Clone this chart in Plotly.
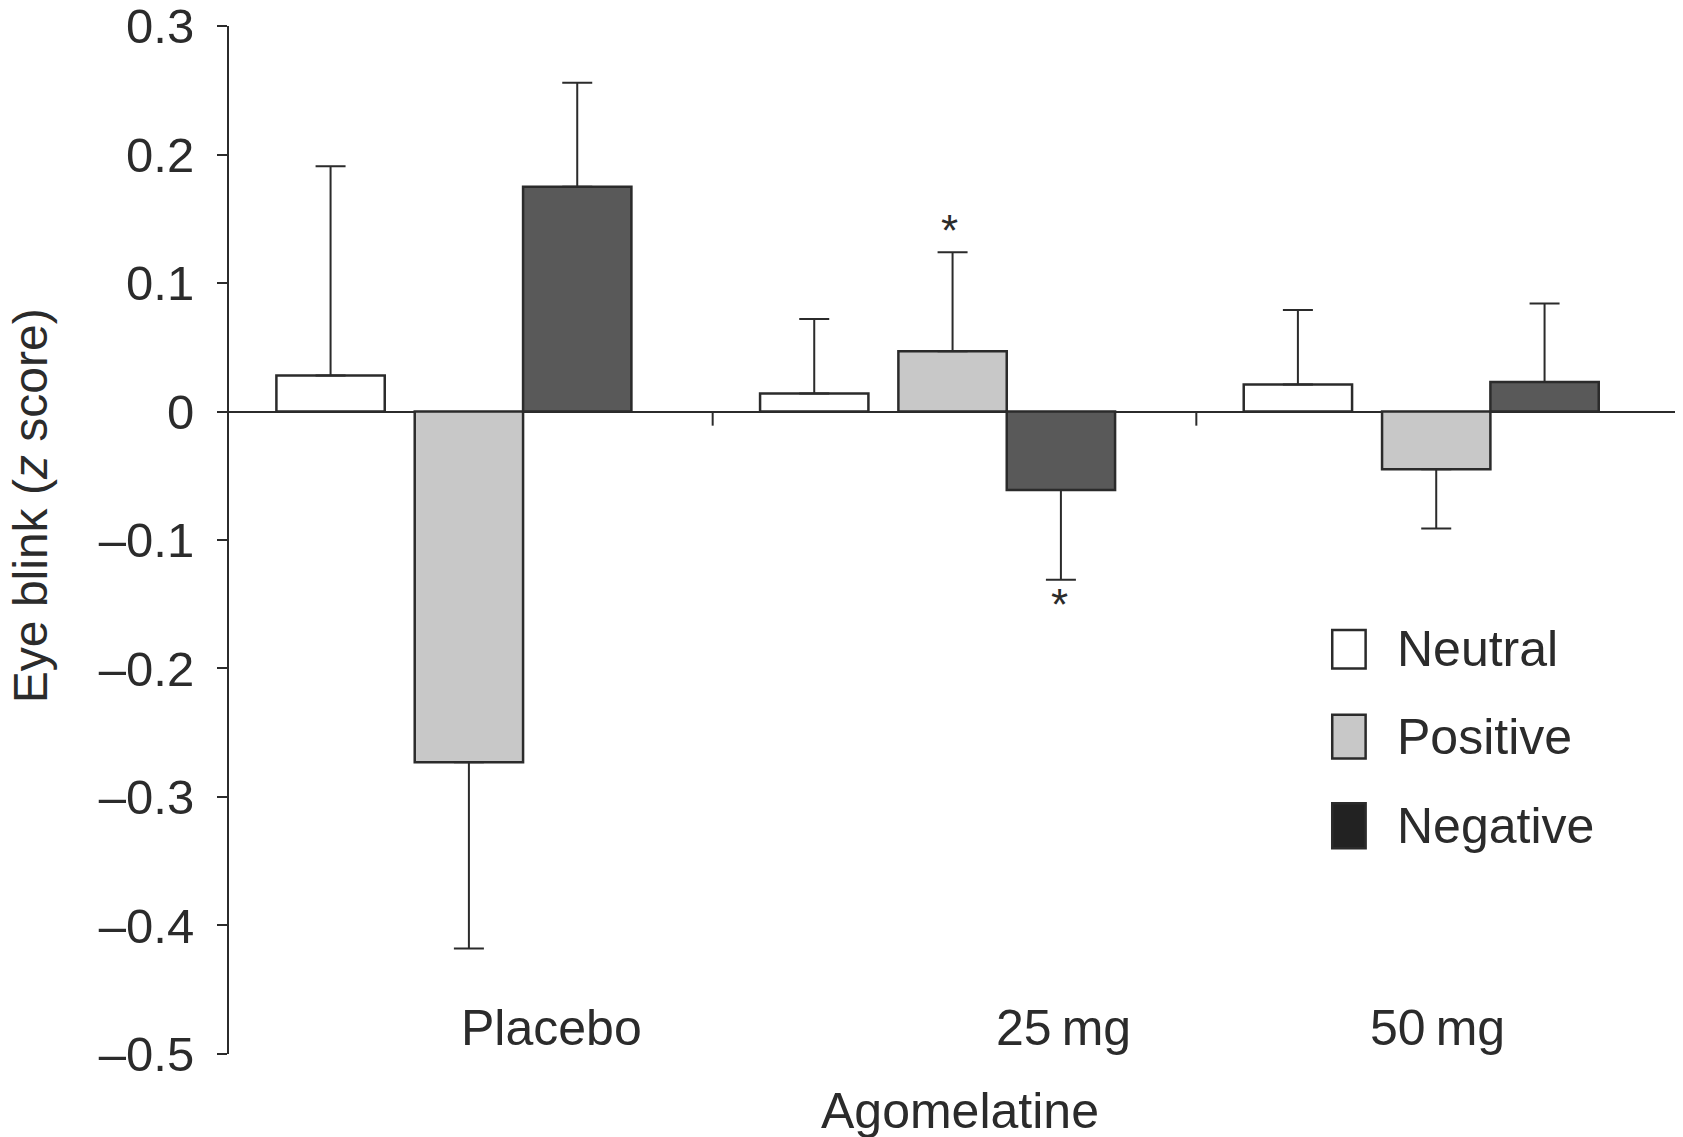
import plotly.graph_objects as go

groups = ["Placebo", "25 mg", "50 mg"]
group_labels = ["Placebo", "25\u2009mg", "50\u2009mg"]

neutral = [0.028, 0.014, 0.021]
neutral_err = [0.163, 0.058, 0.058]
positive = [-0.273, 0.047, -0.045]
positive_err = [0.145, 0.077, 0.046]
negative = [0.175, -0.061, 0.023]
negative_err = [0.081, 0.070, 0.061]

ytick_vals = [0.3, 0.2, 0.1, 0, -0.1, -0.2, -0.3, -0.4, -0.5]
ytick_text = ["0.3", "0.2", "0.1", "0", "\u20130.1", "\u20130.2", "\u20130.3", "\u20130.4", "\u20130.5"]

FONT = "Liberation Sans, Arial, sans-serif"
INK = "#2b2b2b"
BW = 0.224


def one_sided(vals, errs):
    # error bars go away from zero only
    up = [e if v >= 0 else 0 for v, e in zip(vals, errs)]
    down = [e if v < 0 else 0 for v, e in zip(vals, errs)]
    return dict(type="data", symmetric=False, array=up, arrayminus=down,
                color=INK, thickness=2, width=15)


series = [
    ("Neutral", neutral, neutral_err, "#ffffff", -0.29 - BW / 2),
    ("Positive", positive, positive_err, "#c8c8c8", -0.004 - BW / 2),
    ("Negative", negative, negative_err, "#595959", -0.004 + BW / 2),
]

fig = go.Figure()
for name, vals, errs, col, off in series:
    fig.add_trace(go.Bar(
        x=groups, y=vals, name=name, width=BW, offset=off,
        marker=dict(color=col, line=dict(color=INK, width=2.5)),
        error_y=one_sided(vals, errs), showlegend=False,
    ))

# group separators on the zero line
for xv in [0.5, 1.5]:
    fig.add_shape(type="line", x0=xv, x1=xv, y0=0, y1=-0.011,
                  xref="x", yref="y", line=dict(color=INK, width=2))

# group labels inside the plot area
for xv, lab in zip([0.166, 1.225, 1.999], group_labels):
    fig.add_annotation(x=xv, y=-0.48, xref="x", yref="y", text=lab,
                       showarrow=False, font=dict(size=50, color=INK, family=FONT))

# significance stars
fig.add_annotation(x=0.99, y=0.141, text="*", showarrow=False,
                   font=dict(size=44, color=INK, family=FONT))
fig.add_annotation(x=1.218, y=-0.150, text="*", showarrow=False,
                   font=dict(size=44, color=INK, family=FONT))

# hand-made legend
legend_y = [(-0.170, -0.200), (-0.236, -0.270), (-0.305, -0.340)]
legend_fill = ["#ffffff", "#c8c8c8", "#222222"]
for (name, *_), (y0, y1), col in zip(series, legend_y, legend_fill):
    fig.add_shape(type="rect", x0=1.781, x1=1.850, y0=y0, y1=y1,
                  xref="x", yref="y", fillcolor=col, line=dict(color=INK, width=2.5))
    fig.add_annotation(x=1.910, y=(y0 + y1) / 2, xref="x", yref="y", text=name,
                       xanchor="left", showarrow=False,
                       font=dict(size=50, color=INK, family=FONT))

fig.add_annotation(x=0.5035, y=-0.085, xref="paper", yref="paper", text="Agomelatine",
                   showarrow=False, font=dict(size=50, color=INK, family=FONT))
fig.add_annotation(x=-0.1371, y=0.533, xref="paper", yref="paper",
                   xanchor="center", yanchor="middle",
                   text="Eye blink (<i>z</i> score)", textangle=-90,
                   showarrow=False, font=dict(size=48, color=INK, family=FONT))

# page body adds an 8px offset, margins compensate for it
fig.update_layout(
    width=1683, height=1137,
    margin=dict(l=221, r=11, t=18, b=91, autoexpand=False),
    paper_bgcolor="white", plot_bgcolor="white",
    font=dict(family=FONT, color=INK),
    barmode="overlay",
    xaxis=dict(range=[-0.5, 2.5], showticklabels=False, ticks="",
               showgrid=False, showline=False, zeroline=False),
    yaxis=dict(range=[-0.5001, 0.3001], tickvals=ytick_vals, ticktext=ytick_text,
               ticks="outside", ticklen=10, tickwidth=2, tickcolor=INK,
               ticklabelstandoff=13, ticklabeloverflow="allow", automargin=False,
               showline=True, linecolor=INK, linewidth=2,
               showgrid=False, zeroline=True, zerolinecolor=INK, zerolinewidth=2,
               tickfont=dict(size=49, color=INK, family=FONT)),
)

fig.write_html("out.html")
